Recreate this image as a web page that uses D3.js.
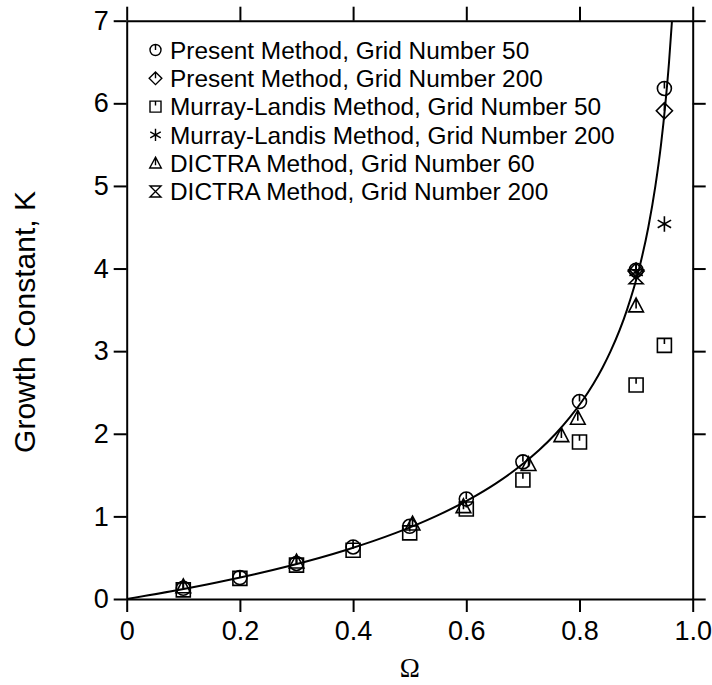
<!DOCTYPE html>
<html>
<head>
<meta charset="utf-8">
<script src="https://cdn.jsdelivr.net/npm/d3@7"></script>
<style>
  html, body { margin: 0; padding: 0; background: #fff; }
  svg { display: block; }
</style>
</head>
<body>
<svg id="chart" width="712" height="685"></svg>
<script>
// ---------------- DATA ----------------
const omegaTicks = [0, 0.2, 0.4, 0.6, 0.8, 1.0];
const omegaTickLabels = ["0", "0.2", "0.4", "0.6", "0.8", "1.0"];
const kTicks = [0, 1, 2, 3, 4, 5, 6, 7];
const kTickLabels = ["0", "1", "2", "3", "4", "5", "6", "7"];

// Solid curve
const curveOmega = [0, 0.0838, 0.1589, 0.2262, 0.2868, 0.3414, 0.3906, 0.4352, 0.4756, 0.5123, 0.5456,
  0.6038, 0.6525, 0.6935, 0.7283, 0.7579, 0.7832, 0.8051, 0.8241, 0.8406, 0.8550, 0.8839, 0.9054,
  0.9216, 0.9341, 0.9440, 0.9518, 0.9582, 0.9634];
const curveK = [0, 0.1, 0.2, 0.3, 0.4, 0.5, 0.6, 0.7, 0.8, 0.9, 1.0,
  1.2, 1.4, 1.6, 1.8, 2.0, 2.2, 2.4, 2.6, 2.8, 3.0, 3.5, 4.0,
  4.5, 5.0, 5.5, 6.0, 6.5, 7.0];

// Present Method, Grid Number 50 (circle)
const present50Omega = [0.1, 0.2, 0.3, 0.4, 0.5, 0.6, 0.7, 0.8, 0.9, 0.95];
const present50K = [0.13, 0.26, 0.43, 0.63, 0.88, 1.21, 1.66, 2.39, 3.98, 6.18];
// Present Method, Grid Number 200 (diamond)
const present200Omega = [0.9, 0.95];
const present200K = [3.97, 5.91];
// Murray-Landis Method, Grid Number 50 (square)
const ml50Omega = [0.1, 0.2, 0.3, 0.4, 0.5, 0.6, 0.7, 0.8, 0.9, 0.95];
const ml50K = [0.11, 0.25, 0.41, 0.59, 0.80, 1.09, 1.44, 1.90, 2.59, 3.07];
// Murray-Landis Method, Grid Number 200 (asterisk)
const ml200Omega = [0.9, 0.95];
const ml200K = [3.96, 4.54];
// DICTRA Method, Grid Number 60 (triangle)
const dictra60Omega = [0.1, 0.3, 0.505, 0.595, 0.71, 0.768, 0.797, 0.9];
const dictra60K = [0.15, 0.45, 0.91, 1.12, 1.63, 1.98, 2.19, 3.55];
// DICTRA Method, Grid Number 200 (hourglass)
const dictra200Omega = [0.9];
const dictra200K = [3.90];

const legendLabels = [
  "Present Method, Grid Number 50",
  "Present Method, Grid Number 200",
  "Murray-Landis Method, Grid Number 50",
  "Murray-Landis Method, Grid Number 200",
  "DICTRA Method, Grid Number 60",
  "DICTRA Method, Grid Number 200"
];
const legendSymbols = ["circle", "diamond", "square", "asterisk", "triangle", "hourglass"];

// ---------------- LAYOUT ----------------
const svg = d3.select("#chart");
const pL = 126.7, pR = 692.7, pT = 20.7, pB = 599;
const x = d3.scaleLinear().domain([0, 1]).range([pL, pR]);
const y = d3.scaleLinear().domain([0, 7]).range([pB, pT]);
const sansFont = "'Liberation Sans', Arial, Helvetica, sans-serif";

function symbolPath(type, s) {
  const p = d3.path();
  if (type === "circle") {
    p.moveTo(s, 0); p.arc(0, 0, s, 0, Math.PI * 2);
    p.moveTo(0, -s); p.lineTo(0, 0);
  } else if (type === "diamond") {
    const d = s * 1.15;
    p.moveTo(0, -d); p.lineTo(d, 0); p.lineTo(0, d); p.lineTo(-d, 0); p.closePath();
    p.moveTo(0, -d); p.lineTo(0, 0);
  } else if (type === "square") {
    p.rect(-s, -s, 2 * s, 2 * s);
    p.moveTo(0, -s); p.lineTo(0, -s * 0.2);
  } else if (type === "triangle") {
    const h = s * 1.1;
    p.moveTo(0, -h); p.lineTo(s * 1.05, h * 0.8); p.lineTo(-s * 1.05, h * 0.8); p.closePath();
    p.moveTo(0, -h); p.lineTo(0, h * 0.35);
  } else if (type === "asterisk") {
    const a = s * 1.1;
    p.moveTo(0, -a); p.lineTo(0, a);
    p.moveTo(-a * 0.87, -a * 0.5); p.lineTo(a * 0.87, a * 0.5);
    p.moveTo(-a * 0.87, a * 0.5); p.lineTo(a * 0.87, -a * 0.5);
  } else if (type === "hourglass") {
    p.moveTo(-s, -s); p.lineTo(s, -s); p.lineTo(-s, s); p.lineTo(s, s); p.closePath();
  }
  return p.toString();
}

// ---------------- AXES ----------------
const axisStyle = g => {
  g.select(".domain").attr("stroke", "#000").attr("stroke-width", 2).attr("fill", "none");
  g.selectAll(".tick line").attr("stroke", "#000").attr("stroke-width", 2);
  g.selectAll(".tick text").attr("fill", "#000");
};

svg.append("g")
  .attr("transform", `translate(0,${pB})`)
  .call(d3.axisBottom(x).tickValues(omegaTicks).tickFormat((d, i) => omegaTickLabels[i])
    .tickSize(13).tickSizeOuter(0).tickPadding(9))
  .call(axisStyle)
  .call(g => g.selectAll("text").attr("font-family", sansFont).attr("font-size", 27));

svg.append("g")
  .attr("transform", `translate(0,${pT})`)
  .call(d3.axisTop(x).tickValues(omegaTicks).tickFormat("").tickSize(14).tickSizeOuter(0))
  .call(axisStyle);

svg.append("g")
  .attr("transform", `translate(${pL},0)`)
  .call(d3.axisLeft(y).tickValues(kTicks).tickFormat((d, i) => kTickLabels[i])
    .tickSize(13).tickSizeOuter(0).tickPadding(5))
  .call(axisStyle)
  .call(g => g.selectAll("text").attr("font-family", sansFont).attr("font-size", 27));

svg.append("g")
  .attr("transform", `translate(${pR},0)`)
  .call(d3.axisRight(y).tickValues(kTicks).tickFormat("").tickSize(13).tickSizeOuter(0))
  .call(axisStyle);

// Axis titles
svg.append("text")
  .attr("x", (pL + pR) / 2).attr("y", 677)
  .attr("text-anchor", "middle")
  .attr("font-family", "'Liberation Serif', 'Times New Roman', serif")
  .attr("font-size", 27)
  .text("Ω");

svg.append("text")
  .attr("transform", `translate(35,322) rotate(-90)`)
  .attr("text-anchor", "middle")
  .attr("font-family", sansFont)
  .attr("font-size", 30)
  .text("Growth Constant, K");

// ---------------- CURVE ----------------
svg.append("clipPath").attr("id", "clip")
  .append("rect").attr("x", pL).attr("y", pT).attr("width", pR - pL).attr("height", pB - pT);

const curvePts = curveOmega.map((o, i) => [o, curveK[i]]);
svg.append("path")
  .attr("clip-path", "url(#clip)")
  .attr("d", d3.line().x(d => x(d[0])).y(d => y(d[1])).curve(d3.curveMonotoneX)(curvePts))
  .attr("fill", "none").attr("stroke", "#000").attr("stroke-width", 2);

// ---------------- MARKERS ----------------
const seriesList = [
  { o: ml50Omega, k: ml50K, sym: "square" },
  { o: dictra60Omega, k: dictra60K, sym: "triangle" },
  { o: present50Omega, k: present50K, sym: "circle" },
  { o: present200Omega, k: present200K, sym: "diamond" },
  { o: ml200Omega, k: ml200K, sym: "asterisk" },
  { o: dictra200Omega, k: dictra200K, sym: "hourglass" }
];

seriesList.forEach(s => {
  svg.append("g").selectAll("path")
    .data(s.o.map((o, i) => [o, s.k[i]]))
    .join("path")
    .attr("transform", d => `translate(${x(d[0])},${y(d[1])})`)
    .attr("d", symbolPath(s.sym, 7))
    .attr("fill", "none").attr("stroke", "#000").attr("stroke-width", 1.6);
});

// ---------------- LEGEND ----------------
const legend = svg.append("g");
legendLabels.forEach((lab, i) => {
  const cy = 50 + i * 28.3;
  legend.append("path")
    .attr("transform", `translate(155.5,${cy})`)
    .attr("d", symbolPath(legendSymbols[i], 5.5))
    .attr("fill", "none").attr("stroke", "#000").attr("stroke-width", 1.4);
  legend.append("text")
    .attr("x", 170).attr("y", cy).attr("dy", "0.36em")
    .attr("font-family", sansFont).attr("font-size", 24.4)
    .text(lab);
});
</script>
</body>
</html>
